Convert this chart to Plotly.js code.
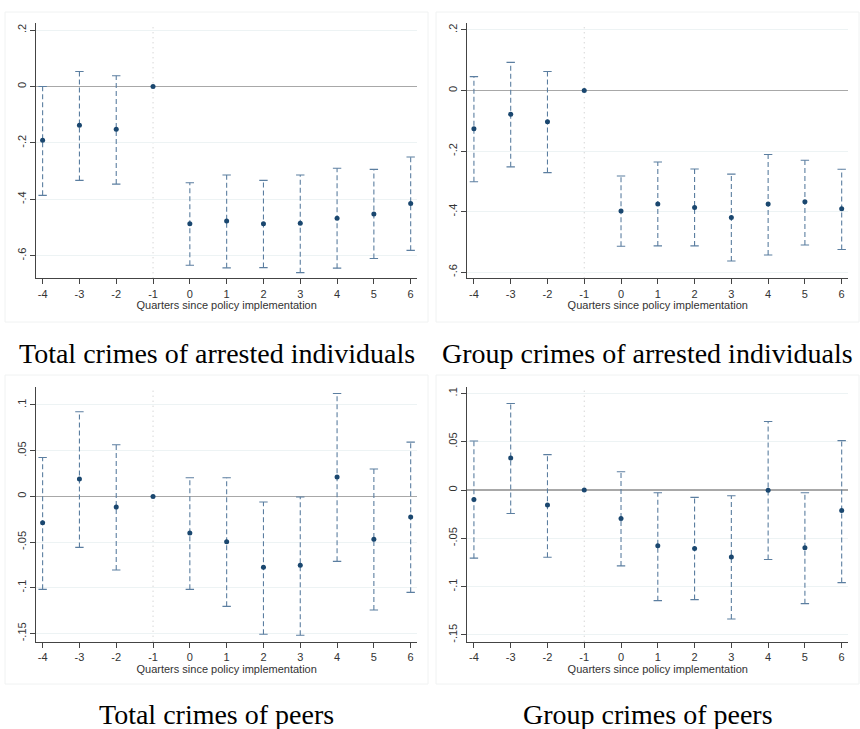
<!DOCTYPE html>
<html>
<head>
<meta charset="utf-8">
<script src="https://cdn.plot.ly/plotly-3.0.1.min.js"></script>
<style>html,body{margin:0;padding:0;background:#fff;}#chart{width:860px;height:729px;}</style>
</head>
<body>
<div id="chart"></div>
<script>
// ---- data ----
const quarters = [-4, -3, -2, -1, 0, 1, 2, 3, 4, 5, 6];
const xTickLabels = ["-4", "-3", "-2", "-1", "0", "1", "2", "3", "4", "5", "6"];

// Total crimes of arrested individuals
const totArrCoef = [-0.191, -0.137, -0.152, 0, -0.487, -0.477, -0.487, -0.485, -0.467, -0.452, -0.415];
const totArrLo   = [-0.386, -0.333, -0.346, null, -0.634, -0.643, -0.642, -0.660, -0.644, -0.610, -0.581];
const totArrHi   = [0.000, 0.053, 0.038, null, -0.341, -0.314, -0.333, -0.314, -0.290, -0.294, -0.250];

// Group crimes of arrested individuals
const grpArrCoef = [-0.126, -0.078, -0.103, 0, -0.398, -0.375, -0.386, -0.419, -0.375, -0.367, -0.390];
const grpArrLo   = [-0.301, -0.252, -0.271, null, -0.514, -0.513, -0.513, -0.563, -0.543, -0.510, -0.525];
const grpArrHi   = [0.046, 0.093, 0.063, null, -0.282, -0.236, -0.259, -0.276, -0.211, -0.230, -0.260];

// Total crimes of peers
const totPeerCoef = [-0.0288, 0.0190, -0.0117, 0, -0.0401, -0.0496, -0.0776, -0.0754, 0.0211, -0.0470, -0.0226];
const totPeerLo   = [-0.1017, -0.0558, -0.0805, null, -0.1017, -0.1203, -0.1509, -0.1520, -0.0711, -0.1243, -0.1050];
const totPeerHi   = [0.0426, 0.0926, 0.0565, null, 0.0204, 0.0204, -0.0062, -0.0007, 0.1126, 0.0299, 0.0594];

// Group crimes of peers
const grpPeerCoef = [-0.0097, 0.0332, -0.0156, 0, -0.0294, -0.0577, -0.0605, -0.0692, -0.0003, -0.0598, -0.0211];
const grpPeerLo   = [-0.0705, -0.0242, -0.0695, null, -0.0785, -0.1145, -0.1134, -0.1335, -0.0719, -0.1176, -0.0958];
const grpPeerHi   = [0.0508, 0.0896, 0.0367, null, 0.0190, -0.0028, -0.0076, -0.0059, 0.0709, -0.0028, 0.0512];

const topYTicks = [-0.6, -0.4, -0.2, 0, 0.2];
const topYTickLabels = ["-.6", "-.4", "-.2", "0", ".2"];
const botYTicks = [-0.15, -0.1, -0.05, 0, 0.05, 0.1];
const botYTickLabels = ["-.15", "-.1", "-.05", "0", ".05", ".1"];

const panelTitles = ["Total crimes of arrested individuals", "Group crimes of arrested individuals",
                     "Total crimes of peers", "Group crimes of peers"];
const xAxisTitle = "Quarters since policy implementation";
const eventQuarter = -1;

// ---- styling ----
const navy = "#1a476f";
const ciColor = "#5b7ea0";
const W = 860, H = 729;
const px = v => v / W;
const py = v => (H - v) / H;

const panels = [
  {coef: totArrCoef, lo: totArrLo, hi: totArrHi, xa: "x", ya: "y", yt: topYTicks, ytl: topYTickLabels, yr: [-0.68, 0.224]},
  {coef: grpArrCoef, lo: grpArrLo, hi: grpArrHi, xa: "x2", ya: "y2", yt: topYTicks, ytl: topYTickLabels, yr: [-0.62, 0.222]},
  {coef: totPeerCoef, lo: totPeerLo, hi: totPeerHi, xa: "x3", ya: "y3", yt: botYTicks, ytl: botYTickLabels, yr: [-0.159, 0.120]},
  {coef: grpPeerCoef, lo: grpPeerLo, hi: grpPeerHi, xa: "x4", ya: "y4", yt: botYTicks, ytl: botYTickLabels, yr: [-0.157, 0.107]}
];

const traces = [];
panels.forEach(p => {
  const sx = [], sy = [], cx = [], cy = [];
  quarters.forEach((q, i) => {
    if (p.lo[i] === null) return;
    sx.push(q, q, null); sy.push(p.lo[i], p.hi[i], null);
    cx.push(q, q); cy.push(p.lo[i], p.hi[i]);
  });
  traces.push({type: "scatter", mode: "lines", x: sx, y: sy, xaxis: p.xa, yaxis: p.ya,
    line: {color: ciColor, width: 1.1, dash: "5px,3px"}, hoverinfo: "skip", showlegend: false, connectgaps: false});
  traces.push({type: "scatter", mode: "markers", x: cx, y: cy, xaxis: p.xa, yaxis: p.ya,
    marker: {symbol: "line-ew", size: 6, line: {color: ciColor, width: 1.1}}, hoverinfo: "skip", showlegend: false});
  traces.push({type: "scatter", mode: "markers", x: quarters, y: p.coef, xaxis: p.xa, yaxis: p.ya,
    marker: {symbol: "circle", size: 5, color: navy}, showlegend: false});
});

const xDomL = [px(36), px(417.3)], xDomR = [px(467.3), px(848.3)];
const yDomT = [py(278.3), py(23.3)], yDomB = [py(641.7), py(386.7)];
const tickFont = {family: "Liberation Sans, Arial, sans-serif", size: 11, color: "#333333"};

function xaxisDef(dom, anchor) {
  return {domain: dom, anchor: anchor, range: [-4.18, 6.18], tickmode: "array", tickvals: quarters, ticktext: xTickLabels,
    showline: true, linecolor: "#444444", linewidth: 1, ticks: "outside", ticklen: 5, tickcolor: "#444444",
    showgrid: false, zeroline: false, tickfont: tickFont,
    title: {text: xAxisTitle, font: {family: "Liberation Sans, Arial, sans-serif", size: 11, color: "#333333"}, standoff: 0}};
}
function yaxisDef(dom, anchor, p) {
  return {domain: dom, anchor: anchor, range: p.yr, tickmode: "array", tickvals: p.yt, ticktext: p.ytl,
    tickangle: -90, showline: true, linecolor: "#444444", linewidth: 1, ticks: "outside", ticklen: 5, tickcolor: "#444444",
    showgrid: true, gridcolor: "#edf3f4", gridwidth: 1, zeroline: true, zerolinecolor: "#a8a8a8", zerolinewidth: 1.5,
    tickfont: tickFont};
}

const shapes = [];
["x", "x2", "x3", "x4"].forEach((xa, i) => {
  const ya = ["y", "y2", "y3", "y4"][i];
  shapes.push({type: "line", xref: xa, yref: ya + " domain", x0: eventQuarter, x1: eventQuarter, y0: 0, y1: 1,
    line: {color: "#c4c4c4", width: 1, dash: "1px,4px"}, layer: "below"});
});
// faint graph-region borders
[[5, 428, 12, 322], [436, 859, 12, 322], [5, 428, 375, 684], [436, 859, 375, 684]].forEach(b => {
  shapes.push({type: "rect", xref: "paper", yref: "paper", x0: px(b[0]), x1: px(b[1]), y0: py(b[3]), y1: py(b[2]),
    line: {color: "#f0f2f2", width: 1}, layer: "below"});
});

const titleFont = {family: "Liberation Serif, Times New Roman, serif", size: 28, color: "#000000"};
const annotations = [
  {text: panelTitles[0], x: px(217), y: py(353)},
  {text: panelTitles[1], x: px(647.5), y: py(353)},
  {text: panelTitles[2], x: px(216.5), y: py(714)},
  {text: panelTitles[3], x: px(648), y: py(714)}
].map(a => Object.assign(a, {xref: "paper", yref: "paper", showarrow: false, xanchor: "center", yanchor: "middle", font: titleFont}));

const layout = {
  width: W, height: H, margin: {l: 0, r: 0, t: 0, b: 0},
  paper_bgcolor: "#ffffff", plot_bgcolor: "#ffffff", showlegend: false,
  xaxis: xaxisDef(xDomL, "y"), yaxis: yaxisDef(yDomT, "x", panels[0]),
  xaxis2: xaxisDef(xDomR, "y2"), yaxis2: yaxisDef(yDomT, "x2", panels[1]),
  xaxis3: xaxisDef(xDomL, "y3"), yaxis3: yaxisDef(yDomB, "x3", panels[2]),
  xaxis4: xaxisDef(xDomR, "y4"), yaxis4: yaxisDef(yDomB, "x4", panels[3]),
  shapes: shapes, annotations: annotations
};

Plotly.newPlot("chart", traces, layout, {displayModeBar: false, staticPlot: true});
</script>
</body>
</html>
